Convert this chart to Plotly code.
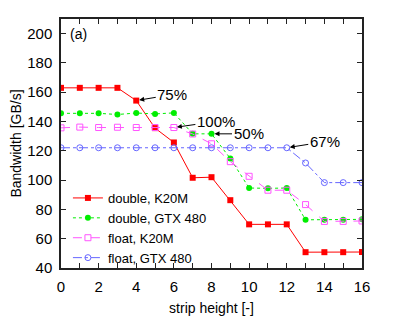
import plotly.graph_objects as go

strip_height = list(range(17))
double_k20m = [163.0, 163.0, 163.0, 163.0, 154.3, 135.5, 125.7, 101.6, 102.0, 86.3,
               69.8, 69.8, 69.8, 50.8, 50.8, 50.8, 50.9]
double_gtx480 = [145.6, 145.6, 145.6, 144.8, 145.8, 145.2, 145.9, 131.6, 131.6, 114.8,
                 94.6, 94.4, 94.6, 72.9, 72.9, 72.9, 73.2]
float_k20m = [135.7, 136.2, 135.9, 136.1, 135.9, 135.9, 135.9, 131.5, 124.8, 112.6,
              102.6, 93.1, 93.1, 83.3, 71.8, 71.8, 72.1]
float_gtx480 = [122.1] * 13 + [111.7, 98.3, 98.3, 98.3]

series_names = ["double, K20M", "double, GTX 480", "float, K20M", "float, GTX 480"]
x_ticks = list(range(0, 17, 2))
y_ticks = list(range(40, 201, 20))

FONT = "Liberation Sans, Arial, Helvetica, sans-serif"

fig = go.Figure()
fig.add_trace(go.Scatter(x=strip_height, y=double_k20m, name=series_names[0], mode="lines+markers",
                         line=dict(color="#ff0000", width=1),
                         marker=dict(symbol="square", size=6, color="#ff0000")))
fig.add_trace(go.Scatter(x=strip_height, y=double_gtx480, name=series_names[1], mode="lines+markers",
                         line=dict(color="#00ee00", width=1, dash="dot"),
                         marker=dict(symbol="circle", size=6, color="#00ee00")))
fig.add_trace(go.Scatter(x=strip_height, y=float_k20m, name=series_names[2], mode="lines+markers",
                         line=dict(color="#ff55ff", width=1, dash="dash"),
                         marker=dict(symbol="square-open", size=6, color="#ff55ff", line=dict(width=1))))
fig.add_trace(go.Scatter(x=strip_height, y=float_gtx480, name=series_names[3], mode="lines+markers",
                         line=dict(color="#6666ff", width=1, dash="dashdot"),
                         marker=dict(symbol="circle-open", size=6, color="#6666ff", line=dict(width=1))))

arrow_common = dict(showarrow=True, arrowhead=2, arrowsize=1, arrowwidth=1, arrowcolor="black",
                    font=dict(family=FONT, size=15, color="black"), axref="pixel", ayref="pixel",
                    standoff=3)
fig.add_annotation(x=strip_height[4], y=double_k20m[4], text="75%", ax=36, ay=-6, **arrow_common)
fig.add_annotation(x=strip_height[6], y=float_k20m[6], text="100%", ax=42, ay=-6, **arrow_common)
fig.add_annotation(x=strip_height[8], y=double_gtx480[8], text="50%", ax=37, ay=0, **arrow_common)
fig.add_annotation(x=strip_height[12], y=float_gtx480[12], text="67%", ax=38, ay=-6, **arrow_common)
fig.add_annotation(x=0.95, y=200, text="(a)", showarrow=False,
                   font=dict(family=FONT, size=14, color="black"))

axis_common = dict(showline=True, linecolor="#222", linewidth=1.5, mirror="ticks",
                   ticks="inside", ticklen=5, tickcolor="#222", tickwidth=1,
                   showgrid=False, zeroline=False,
                   tickfont=dict(family=FONT, size=15, color="black"))

fig.update_xaxes(range=[0, 16], tickvals=x_ticks, ticklabelstandoff=4, automargin=True,
                 minor=dict(dtick=1, ticks="inside", ticklen=5, tickcolor="#222", showgrid=False),
                 title=dict(text="strip height [-]", font=dict(family=FONT, size=14, color="black"),
                            standoff=9),
                 **axis_common)
fig.update_yaxes(range=[40, 210], tickvals=y_ticks, ticklabelstandoff=4, automargin=False,
                 title=dict(text="Bandwidth [GB/s]", font=dict(family=FONT, size=14, color="black")),
                 **axis_common)

fig.update_layout(
    width=395, height=316,
    margin=dict(l=53, r=41, t=9, b=56),
    plot_bgcolor="white", paper_bgcolor="white",
    font=dict(family=FONT, size=14, color="black"),
    legend=dict(x=0.023, y=-0.02, xanchor="left", yanchor="bottom", bgcolor="rgba(0,0,0,0)",
                font=dict(family=FONT, size=13, color="black"), tracegroupgap=0,
                itemwidth=30),
    showlegend=True,
)

fig.write_html("out.html")
